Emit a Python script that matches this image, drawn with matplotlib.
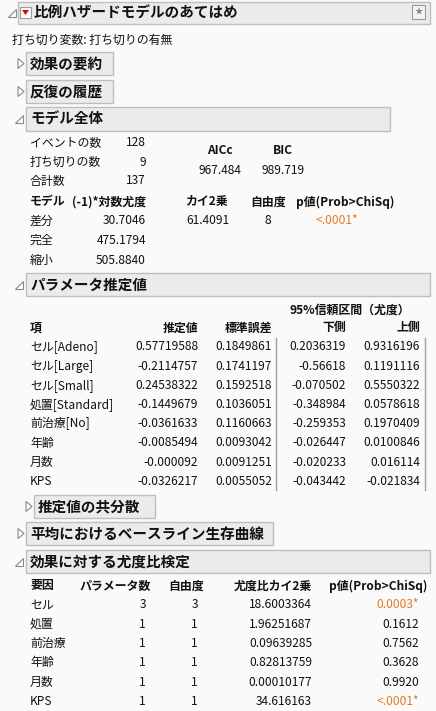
import matplotlib
matplotlib.use("Agg")
import matplotlib.pyplot as plt
from matplotlib.patches import Rectangle, Polygon

plt.rcParams['font.family'] = ['Noto Sans CJK JP', 'DejaVu Sans']

W, H = 436, 711
FS = 8.6
ORANGE = "#E07B22"

# モデル全体
COUNT_LABELS = ["イベントの数", "打ち切りの数", "合計数"]
COUNT_VALUES = ["128", "9", "137"]
AICC, BIC = "967.484", "989.719"
MODEL_ROWS = ["差分", "完全", "縮小"]
LOGLIK = ["30.7046", "475.1794", "505.8840"]
CHISQ, DF, PVAL = "61.4091", "8", "<.0001*"

# パラメータ推定値
TERMS = ["セル[Adeno]", "セル[Large]", "セル[Small]", "処置[Standard]",
         "前治療[No]", "年齢", "月数", "KPS"]
EST = ["0.57719588", "-0.2114757", "0.24538322", "-0.1449679",
       "-0.0361633", "-0.0085494", "-0.000092", "-0.0326217"]
SE = ["0.1849861", "0.1741197", "0.1592518", "0.1036051",
      "0.1160663", "0.0093042", "0.0091251", "0.0055052"]
LOWER = ["0.2036319", "-0.56618", "-0.070502", "-0.348984",
         "-0.259353", "-0.026447", "-0.020233", "-0.043442"]
UPPER = ["0.9316196", "0.1191116", "0.5550322", "0.0578618",
         "0.1970409", "0.0100846", "0.016114", "-0.021834"]

# 効果に対する尤度比検定
SOURCES = ["セル", "処置", "前治療", "年齢", "月数", "KPS"]
NPARM = ["3", "1", "1", "1", "1", "1"]
LR_DF = ["3", "1", "1", "1", "1", "1"]
LR_CHI = ["18.6003364", "1.96251687", "0.09639285", "0.82813759",
          "0.00010177", "34.616163"]
LR_P = ["0.0003*", "0.1612", "0.7562", "0.3628", "0.9920", "<.0001*"]

fig = plt.figure(figsize=(W / 100, H / 100), dpi=100)
fig.patch.set_facecolor("#FAFAFA")
ax = fig.add_axes([0, 0, 1, 1])
ax.set_xlim(0, W)
ax.set_ylim(H, 0)
ax.axis("off")


def txt(x, y, s, ha="left", bold=False, color="#111111", size=FS):
    ax.text(x, y, s, ha=ha, va="center", fontsize=size, color=color,
            fontweight="bold" if bold else "normal")


def header(x0, x1, y0, y1, label, tri_x, open_=True, size=10.5):
    ax.add_patch(Rectangle((x0, y0), x1 - x0, y1 - y0, fc="#EBEBEB",
                           ec="#BEBEBE", lw=1))
    yc = (y0 + y1) / 2
    if open_:
        pts = [(tri_x + 7, yc - 4), (tri_x + 7, yc + 4), (tri_x - 1, yc + 4)]
    else:
        pts = [(tri_x - 2, yc - 5), (tri_x - 2, yc + 5), (tri_x + 4, yc)]
    ax.add_patch(Polygon(pts, closed=True, fc="white", ec="#888888", lw=0.8))
    txt(x0 + 4, yc, label, bold=True, size=size)


# title
header(18, 430, 2, 24, "", 9)
ax.add_patch(Rectangle((20, 7), 11, 11, fc="white", ec="#999999", lw=0.8))
ax.add_patch(Polygon([(22, 10), (29, 10), (25.5, 15)], fc="#D01010", ec="none"))
txt(34, 13, "比例ハザードモデルのあてはめ", bold=True, size=10.5)
ax.add_patch(Rectangle((412, 5), 13, 14, fc="#F4F4F4", ec="#999999", lw=0.8))
txt(418.5, 12, "★", ha="center", color="#888888", size=6)
txt(12, 40, "打ち切り変数: 打ち切りの有無")

header(26, 113, 52, 75, "効果の要約", 20, open_=False)
header(26, 113, 80, 103, "反復の履歴", 20, open_=False)
header(26, 390, 107, 131, "モデル全体", 16)

for i, (lab, v) in enumerate(zip(COUNT_LABELS, COUNT_VALUES)):
    y = 143 + 19 * i
    txt(30, y, lab)
    txt(146, y, v, ha="right")
txt(220, 150, "AICc", ha="center", bold=True)
txt(283, 150, "BIC", ha="center", bold=True)
txt(220, 170, AICC, ha="center")
txt(283, 170, BIC, ha="center")

txt(30, 202, "モデル", bold=True)
txt(146, 202, "(-1)*対数尤度", ha="right", bold=True)
txt(206, 202, "カイ2乗", ha="center", bold=True)
txt(268, 202, "自由度", ha="center", bold=True)
txt(345, 202, "p値(Prob>ChiSq)", ha="center", bold=True)
for i, (lab, v) in enumerate(zip(MODEL_ROWS, LOGLIK)):
    y = 221 + 19.5 * i
    txt(30, y, lab)
    txt(146, y, v, ha="right")
txt(229, 221, CHISQ, ha="right")
txt(271, 221, DF, ha="right")
txt(358, 221, PVAL, ha="right", color=ORANGE)

header(26, 430, 273, 296, "パラメータ推定値", 16)
txt(350, 310, "95%信頼区間（尤度）", ha="center", bold=True)
txt(30, 328, "項", bold=True)
for x, lab in zip([198, 272, 346, 420], ["推定値", "標準誤差", "下側", "上側"]):
    txt(x, 328, lab, ha="right", bold=True)
for i, row in enumerate(zip(TERMS, EST, SE, LOWER, UPPER)):
    y = 347 + 19.2 * i
    txt(30, y, row[0])
    for x, v in zip([198, 272, 346, 420], row[1:]):
        txt(x, y, v, ha="right")
for x in [276, 425]:
    ax.plot([x, x], [338, 490], color="#A0A0A0", lw=1)

header(34, 155, 495, 518, "推定値の共分散", 28, open_=False)
header(26, 273, 522, 545, "平均におけるベースライン生存曲線", 20, open_=False)
header(26, 430, 550, 573, "効果に対する尤度比検定", 16)

txt(30, 586, "要因", bold=True)
txt(151, 586, "パラメータ数", ha="right", bold=True)
txt(204, 586, "自由度", ha="right", bold=True)
txt(312, 586, "尤度比カイ2乗", ha="right", bold=True)
txt(427, 586, "p値(Prob>ChiSq)", ha="right", bold=True)
for i, row in enumerate(zip(SOURCES, NPARM, LR_DF, LR_CHI, LR_P)):
    y = 605 + 19.3 * i
    txt(30, y, row[0])
    txt(146, y, row[1], ha="right")
    txt(198, y, row[2], ha="right")
    txt(312, y, row[3], ha="right")
    txt(419, y, row[4], ha="right", color=ORANGE if "*" in row[4] else "#111111")

fig.savefig("out.png", dpi=100, facecolor=fig.get_facecolor())
